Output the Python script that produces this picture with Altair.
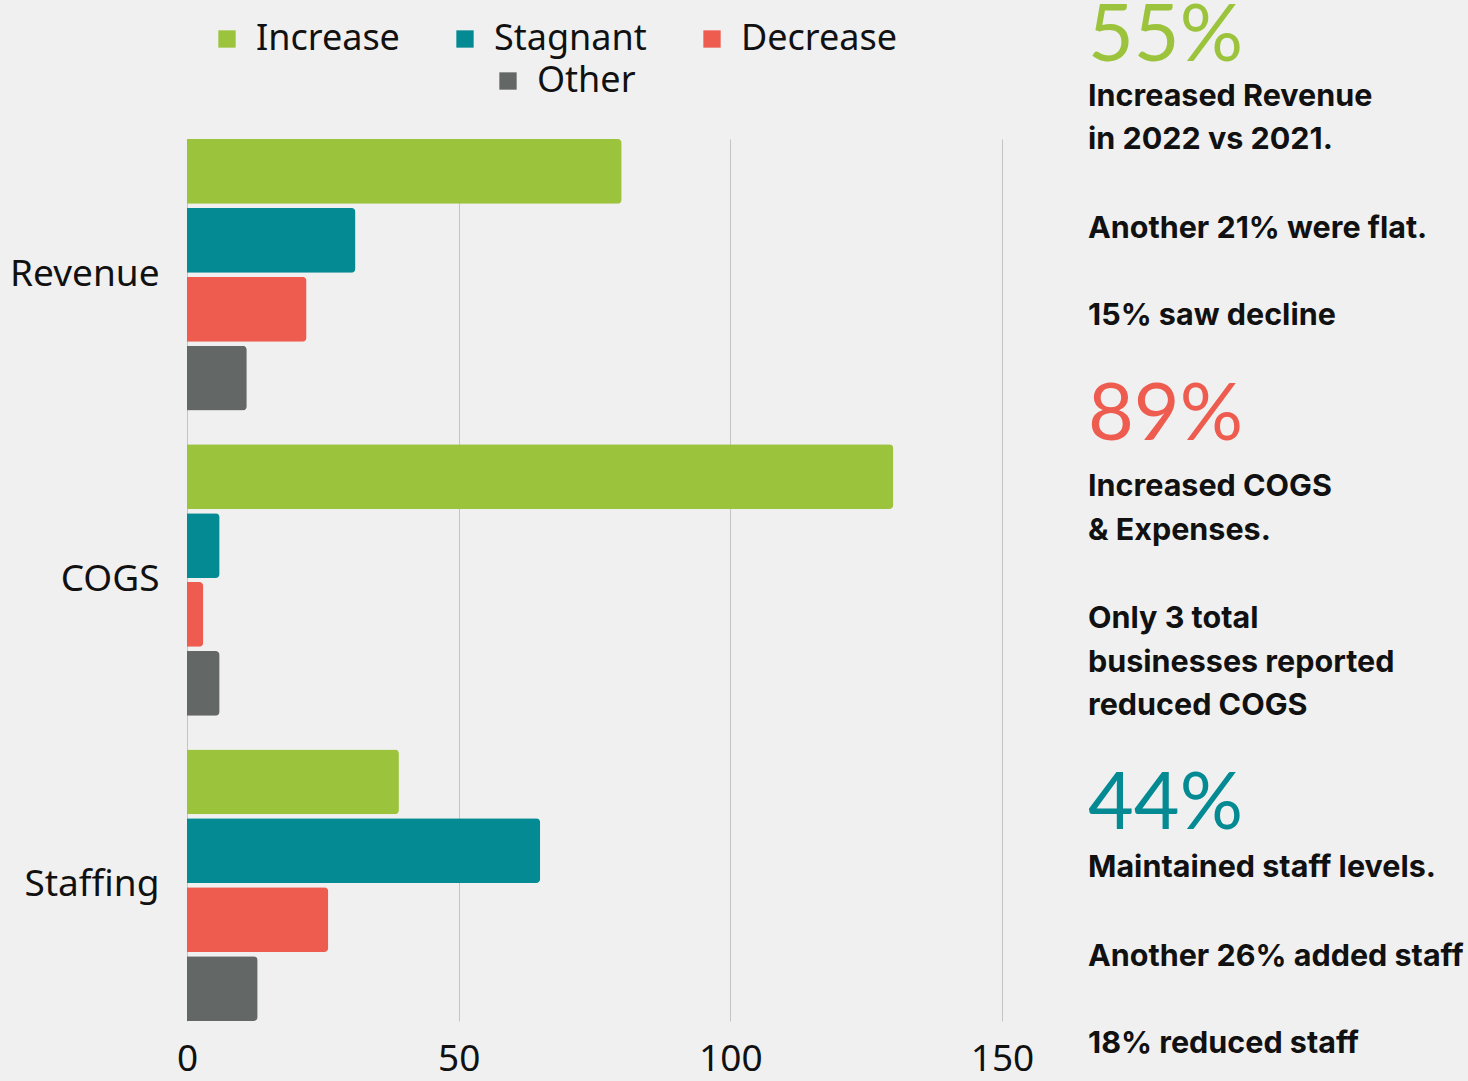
import altair as alt
import pandas as pd

categories = ["Revenue", "COGS", "Staffing"]
series = ["Increase", "Stagnant", "Decrease", "Other"]
increase = [80, 130, 39]
stagnant = [31, 6, 65]
decrease = [22, 3, 26]
other = [11, 6, 13]
x_ticks = [0, 50, 100, 150]
colors = ["#9cc33c", "#038a92", "#ee5c50", "#636766"]

notes = [
    ("55%", "big", "#9cc33c"),
    ("Increased Revenue", "line", "#111111"),
    ("in 2022 vs 2021.", "line", "#111111"),
    ("Another 21% were flat.", "line", "#111111"),
    ("15% saw decline", "line", "#111111"),
    ("89%", "big", "#ee5c50"),
    ("Increased COGS", "line", "#111111"),
    ("& Expenses.", "line", "#111111"),
    ("Only 3 total", "line", "#111111"),
    ("businesses reported", "line", "#111111"),
    ("reduced COGS", "line", "#111111"),
    ("44%", "big", "#038a92"),
    ("Maintained staff levels.", "line", "#111111"),
    ("Another 26% added staff", "line", "#111111"),
    ("18% reduced staff", "line", "#111111"),
]
# baseline positions (page px) of note lines
note_baselines = [61, 106, 149, 238, 325, 440, 496, 540, 628, 672, 715, 829, 877, 966, 1053]

# page background: fill the whole window with the chart's grey
try:
    import altair.utils.html as _ah

    class _BgTemplate:
        def __init__(self, base):
            self.base = base

        def render(self, *args, **kwargs):
            html = self.base.render(*args, **kwargs)
            css = "<style>html, body { margin: 0; padding: 0; background: #f0f0f0; overflow: hidden; }</style>"
            if "<head>" in html:
                return html.replace("<head>", "<head>" + css, 1)
            return css + html

    _ah.TEMPLATES["standard"] = _BgTemplate(_ah.TEMPLATES["standard"])
except Exception:
    pass

rows = []
for i, c in enumerate(categories):
    for s, vals in zip(series, [increase, stagnant, decrease, other]):
        rows.append({"category": c, "series": s, "value": vals[i]})
df = pd.DataFrame(rows)

PLOT_X0, PLOT_Y0 = 187, 139
W, H = 815, 882
FONT = "Noto Sans"
NOTE_FONT = "Inter"
BIG_FONT = "Lato"

bars = alt.Chart(df).mark_bar(cornerRadiusEnd=4).encode(
    x=alt.X("value:Q", scale=alt.Scale(domain=[0, 150], nice=False),
            axis=alt.Axis(values=x_ticks, title=None, grid=True, gridColor="#c4c4c4",
                          domain=False, ticks=False, labelFontSize=37, labelFont=FONT,
                          labelColor="#111111", labelPadding=20, labelFlush=False,
                          format="d")),
    y=alt.Y("category:N", sort=categories,
            scale=alt.Scale(paddingInner=0.11, paddingOuter=0),
            axis=alt.Axis(title=None, domain=False, ticks=False, labelFontSize=37,
                          labelFont=FONT, labelColor="#111111", labelPadding=28)),
    yOffset=alt.YOffset("series:N", sort=series,
                        scale=alt.Scale(paddingInner=0.06, paddingOuter=0)),
    color=alt.Color("series:N", sort=series,
                    scale=alt.Scale(domain=series, range=colors),
                    legend=alt.Legend(values=series[:3], title=None, orient="none",
                                      legendX=22, legendY=-118, direction="horizontal",
                                      symbolType="square", symbolSize=300,
                                      labelFontSize=36, labelFont=FONT, labelColor="#111111",
                                      labelOffset=11, columnPadding=47, symbolStrokeWidth=0)),
)

other_legend = alt.Chart(df).transform_filter("false").mark_point(
    filled=True, shape="square", size=300, color="#636766", opacity=1
).encode(
    shape=alt.Shape("series:N",
                    scale=alt.Scale(domain=["Other"], range=["square"]),
                    legend=alt.Legend(title=None, orient="none", legendX=303, legendY=-76,
                                      symbolType="square", symbolSize=300,
                                      symbolFillColor="#636766", symbolStrokeWidth=0,
                                      labelFontSize=36, labelFont=FONT, labelColor="#111111",
                                      labelOffset=11)),
)

layers = [bars, other_legend]
for (txt, kind, col), yb in zip(notes, note_baselines):
    big = kind == "big"
    layers.append(
        alt.Chart(pd.DataFrame({"t": [txt]})).mark_text(
            align="left", baseline="alphabetic",
            font=BIG_FONT if big else NOTE_FONT, fontSize=79 if big else 30.5,
            fontWeight="normal" if big else "bold", color=col,
        ).encode(text="t:N", x=alt.value(1088 - PLOT_X0), y=alt.value(yb - PLOT_Y0))
    )

chart = alt.layer(*layers).properties(
    width=W, height=H,
    background="#f0f0f0",
    autosize=alt.AutoSizeParams(type="none"),
    padding={"left": PLOT_X0, "top": PLOT_Y0, "right": 1468 - PLOT_X0 - W,
             "bottom": 1081 - PLOT_Y0 - H},
).configure_view(stroke=None)

chart.save("out.html", embed_options={"renderer": "svg", "actions": False})
